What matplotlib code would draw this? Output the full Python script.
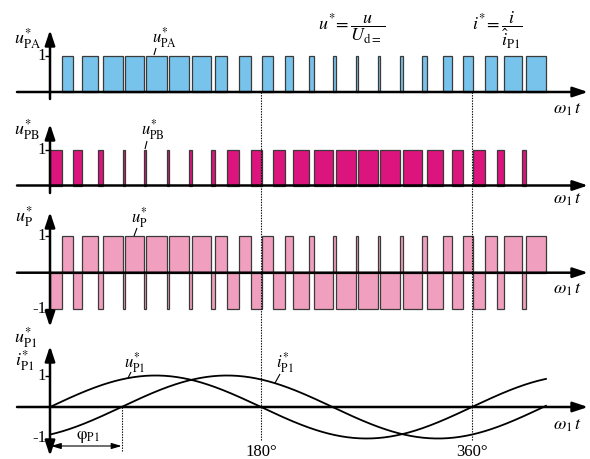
import numpy as np
import matplotlib
matplotlib.use("Agg")
import matplotlib.pyplot as plt
from matplotlib.patches import Rectangle

plt.rcParams["font.family"] = ["Liberation Serif", "DejaVu Serif"]
plt.rcParams["mathtext.fontset"] = "stix"

# on-intervals of the leg-A switching function u*_PA (degrees of omega_1 t)
pa_on = [10.0, 27.0, 45.0, 64.2, 81.6, 101.5, 120.9, 140.8, 161.5, 180.9, 200.7,
         221.2, 241.7, 260.8, 280.1, 298.6, 317.6, 335.5, 352.1, 370.8, 387.6, 406.1]
pa_off = [19.9, 40.7, 62.0, 80.2, 99.6, 118.6, 137.1, 151.3, 171.2, 190.5, 207.6,
          225.2, 243.7, 262.8, 281.8, 301.4, 321.4, 342.7, 361.1, 381.0, 402.4, 423.1]
t_start = 0.0
t_end = 423.1

# fundamental components (per-unit amplitude, current lag in degrees)
u1_amp = 1.0
i1_amp = 1.0
phi_p1 = 61.0

guide_angles = [180, 360]
guide_labels = ["180°", "360°"]

# leg B switches complementary to leg A
pb_on = [t_start] + pa_off[:-1]
pb_off = pa_on[:]

W, H = 590, 459
X0, SX = 50.0, 211.0 / 180.0          # pixel of 0°, pixels per degree
XLIM = (-X0 / SX, (W - X0) / SX)

fig = plt.figure(figsize=(W / 100, H / 100), dpi=100)


def px(deg):
    return X0 + deg * SX


def panel(top, bot, base, unit):
    ax = fig.add_axes([0, (H - bot) / H, 1, (bot - top) / H])
    ax.set_xlim(*XLIM)
    ax.set_ylim(-(bot - base) / unit, (base - top) / unit)
    ax.axis("off")
    return ax


BLUE = "#78c3eb"
MAGENTA = "#dc147d"
PINK = "#f0a0be"
EDGE = "#3a3a3a"


def pulses(ax, starts, ends, level, color):
    for a, b in zip(starts, ends):
        ax.add_patch(Rectangle((a, 0), b - a, level, facecolor=color,
                               edgecolor=EDGE, lw=0.9, zorder=2))


ax1 = panel(15, 118, 92, 36)
pulses(ax1, pa_on, pa_off, 1, BLUE)

ax2 = panel(118, 205, 185.5, 35.5)
pulses(ax2, pb_on, pb_off, 1, MAGENTA)

ax3 = panel(205, 330, 272.7, 36.3)
pulses(ax3, pa_on, pa_off, 1, PINK)
pulses(ax3, pb_on, pb_off, -1, PINK)

ax4 = panel(330, 459, 407, 31.5)
theta = np.linspace(t_start, t_end, 400)
ax4.plot(theta, u1_amp * np.sin(np.radians(theta)), color="black", lw=1.3, zorder=3)
ax4.plot(theta, i1_amp * np.sin(np.radians(theta - phi_p1)), color="black", lw=1.3, zorder=3)

# overlay in pixel coordinates for axes, arrows, guides and labels
ov = fig.add_axes([0, 0, 1, 1])
ov.set_xlim(0, W)
ov.set_ylim(H, 0)
ov.axis("off")
ov.patch.set_alpha(0)

arrow_kw = dict(arrowstyle="-|>,head_length=0.6,head_width=0.2", lw=1.8,
                color="black", shrinkA=0, shrinkB=0, mutation_scale=15)


def arrow(x0, y0, x1, y1):
    ov.annotate("", xy=(x1, y1), xytext=(x0, y0), arrowprops=arrow_kw, zorder=5)


def line(x0, y0, x1, y1, **kw):
    ov.plot([x0, x1], [y0, y1], color="black", solid_capstyle="butt", **kw)


def sym(x, y, base, sub, fs=13):
    """Starred per-unit symbol; (x, y) is the left end of the baseline in pixels."""
    ov.text(x, y, rf"${base}^{{*}}_{{\mathrm{{{sub}}}}}$", fontsize=fs,
            ha="left", va="baseline")


# horizontal time axes
for base in (92, 185.5, 272.7, 407):
    arrow(17, base, 588, base)

# vertical axes
arrow(50, 99, 50, 30)
arrow(50, 193, 50, 124)
arrow(50, 272, 50, 212)
arrow(50, 272, 50, 327)
arrow(50, 407, 50, 346)
arrow(50, 407, 50, 456)

# unit ticks and labels
tfs = 12
for y, s in [(56, "1"), (150, "1"), (236.4, "1"), (309, "-1"), (375.5, "1"), (438.5, "-1")]:
    line(45, y, 50, y, lw=1.0)
    ov.text(46, y, s, ha="right", va="center", fontsize=tfs)

# vertical guide lines
for ang in guide_angles:
    ov.plot([px(ang)] * 2, [92, 440], color="black", lw=0.8, ls=(0, (1.2, 1.2)), zorder=6)
for ang, lab in zip(guide_angles, guide_labels):
    ov.text(px(ang), 452, lab, ha="center", va="center", fontsize=12)

# phase displacement marker
ov.plot([px(phi_p1)] * 2, [407, 451], color="black", lw=0.8, ls=(0, (1.2, 1.2)), zorder=6)
ov.annotate("", xy=(px(phi_p1), 446), xytext=(51, 446),
            arrowprops=dict(arrowstyle="<|-|>,head_length=0.5,head_width=0.15", lw=0.8,
                            color="black", shrinkA=0, shrinkB=0, mutation_scale=12))
ov.text(88, 437, r"$\mathrm{\varphi}_{\mathrm{P1}}$", ha="center", va="center", fontsize=12)

# axis names
sym(14, 44, "u", "PA")
sym(14, 135, "u", "PB")
sym(15, 222, "u", "P")
sym(14, 343, "u", "P1")
sym(15, 366, "i", "P1")

for y in (109, 200, 290, 425):
    ov.text(567, y, r"$\omega_{1}\,t$", ha="center", va="center", fontsize=13)

# curve annotations with leader lines
sym(152, 43, "u", "PA", 12)
line(156, 48, 154, 55, lw=0.8)
sym(141, 135, "u", "PB", 12)
line(147, 141, 145, 149, lw=0.8)
sym(131, 223, "u", "P", 12)
line(137, 228, 134, 236, lw=0.8)
sym(124, 368, "u", "P1", 12)
line(131, 372, 128, 378, lw=0.8)
sym(276, 368, "i", "P1", 12)
line(280, 374, 275, 383, lw=0.8)

# normalisation definitions
ov.text(352, 29, r"$u^{*}\!=\dfrac{u}{U_{\mathrm{d=}}}$", ha="center", va="center", fontsize=13)
ov.text(497, 30, r"$i^{*}\!=\dfrac{i}{\hat{i}_{\mathrm{P1}}}$", ha="center", va="center", fontsize=13)

fig.savefig("out.png", dpi=100)
